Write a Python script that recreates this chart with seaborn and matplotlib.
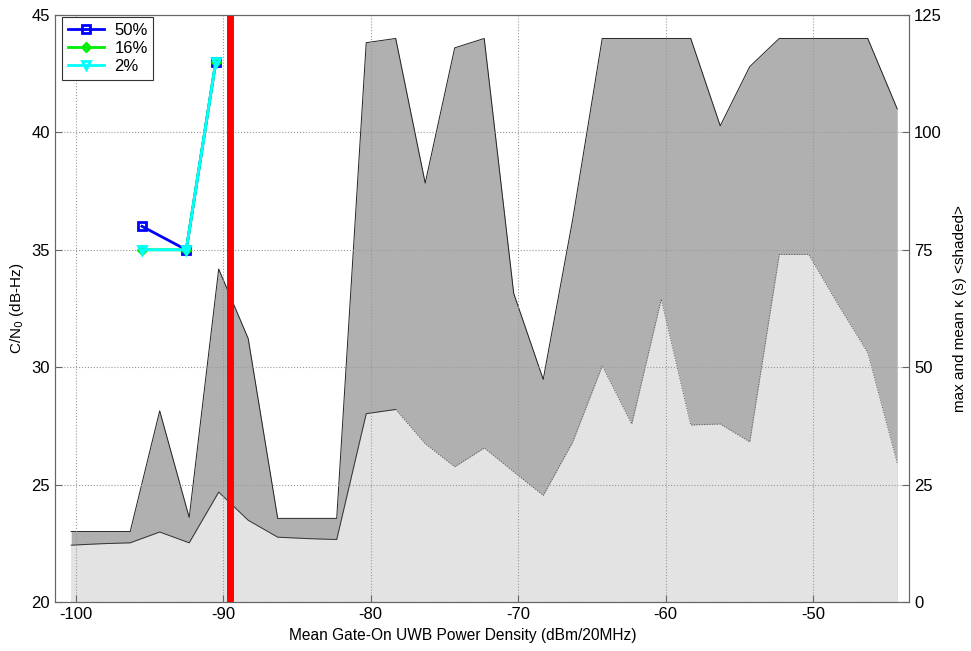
import matplotlib
matplotlib.use("Agg")
import matplotlib.pyplot as plt
import seaborn as sns

# kappa (shaded, right axis)
power_bins = [-100.3, -98.3, -96.3, -94.3, -92.3, -90.3, -88.3, -86.3, -84.3, -82.3,
              -80.3, -78.3, -76.3, -74.3, -72.3, -70.3, -68.3, -66.3, -64.3, -62.3,
              -60.3, -58.3, -56.3, -54.3, -52.3, -50.3, -48.3, -46.3, -44.3]
kappa_max = [15, 15, 15, 40.7, 18, 70.9, 56.1, 17.8, 17.8, 17.8,
             119.1, 120, 89.2, 118, 120, 65.7, 47.4, 81.5, 120, 120,
             120, 120, 101.4, 114, 120, 120, 120, 120, 105]
kappa_mean = [12.1, 12.4, 12.6, 14.9, 12.6, 23.4, 17.4, 13.8, 13.5, 13.3,
              40.1, 41.0, 33.7, 28.8, 32.8, 27.7, 22.7, 34.1, 50.3, 37.9,
              64.5, 37.7, 37.9, 34.1, 74, 74, 63.3, 53.1, 29.6]

# C/N0 thresholds (left axis)
power_cn0 = [-95.5, -92.5, -90.5]
cn0_50 = [36, 35, 43]
cn0_16 = [35, 35, 43]
cn0_2 = [35, 35, 43]
red_line_x = -89.5

plt.rcParams['font.family'] = ['Liberation Sans', 'DejaVu Sans']
plt.rcParams['font.size'] = 11
plt.rcParams['axes.unicode_minus'] = False

fig = plt.figure(figsize=(9.71, 6.51), dpi=100)
ax_r = fig.add_axes([0.0566, 0.0753, 0.8796, 0.9017])
ax_l = ax_r.twinx()

# shaded kappa on the back axes
ax_r.fill_between(power_bins, 0, kappa_max, color='#b0b0b0', lw=0)
ax_r.fill_between(power_bins, 0, kappa_mean, color='#e3e3e3', lw=0)
ax_r.plot(power_bins, kappa_max, color='#222222', lw=0.7)
ax_r.plot(power_bins[:12], kappa_mean[:12], color='#333333', lw=0.7)
ax_r.plot(power_bins[11:], kappa_mean[11:], color='#555555', lw=0.7, ls=':')
ax_r.set_ylim(0, 125)
ax_r.set_yticks([0, 25, 50, 75, 100, 125])
ax_r.set_xlim(-101.4, -43.5)
ax_r.set_xticks([-100, -90, -80, -70, -60, -50])
ax_r.grid(True, color='#999999', ls=':', lw=0.8)
ax_r.set_axisbelow(False)
ax_r.set_xlabel('Mean Gate-On UWB Power Density (dBm/20MHz)', fontsize=11.2)
ax_r.xaxis.set_label_coords(0.477, -0.045)

# C/N0 lines on the front axes
series = [('50%', cn0_50, '#0000ff', 's', 5.5),
          ('16%', cn0_16, '#00ee00', 'D', 4.5),
          ('2%', cn0_2, '#00ffff', 'v', 6)]
for name, vals, col, mk, ms in series:
    sns.lineplot(x=power_cn0, y=vals, color=col, marker=mk, lw=2,
                 markersize=ms, markerfacecolor='none',
                 markeredgecolor=col, markeredgewidth=2, label=name, ax=ax_l)
ax_l.axvline(red_line_x, color='#ff0000', lw=5)
ax_l.set_ylim(20, 45)
ax_l.set_yticks([20, 25, 30, 35, 40, 45])
ax_l.set_xlabel('')
ax_l.set_ylabel('C/N$_0$ (dB-Hz)')

# swap sides: C/N0 on left, kappa on right
ax_l.yaxis.tick_left()
ax_l.yaxis.set_label_position('left')
ax_r.yaxis.tick_right()
ax_r.yaxis.set_label_position('right')
ax_r.set_ylabel('max and mean κ (s) <shaded>', labelpad=8)
ax_l.patch.set_visible(False)

for a in (ax_l, ax_r):
    a.tick_params(direction='in', length=5, color='#666666', labelsize=12)
    for s in a.spines.values():
        s.set_color('#666666')

leg = ax_l.legend(loc='upper left', bbox_to_anchor=(0.008, 0.997),
                  frameon=True, fancybox=False, edgecolor='#333333',
                  framealpha=1, borderaxespad=0, handlelength=2.2,
                  fontsize=12, labelspacing=0.2, borderpad=0.35,
                  handletextpad=0.6)
leg.get_frame().set_linewidth(0.8)

fig.savefig('out.png', dpi=100)
